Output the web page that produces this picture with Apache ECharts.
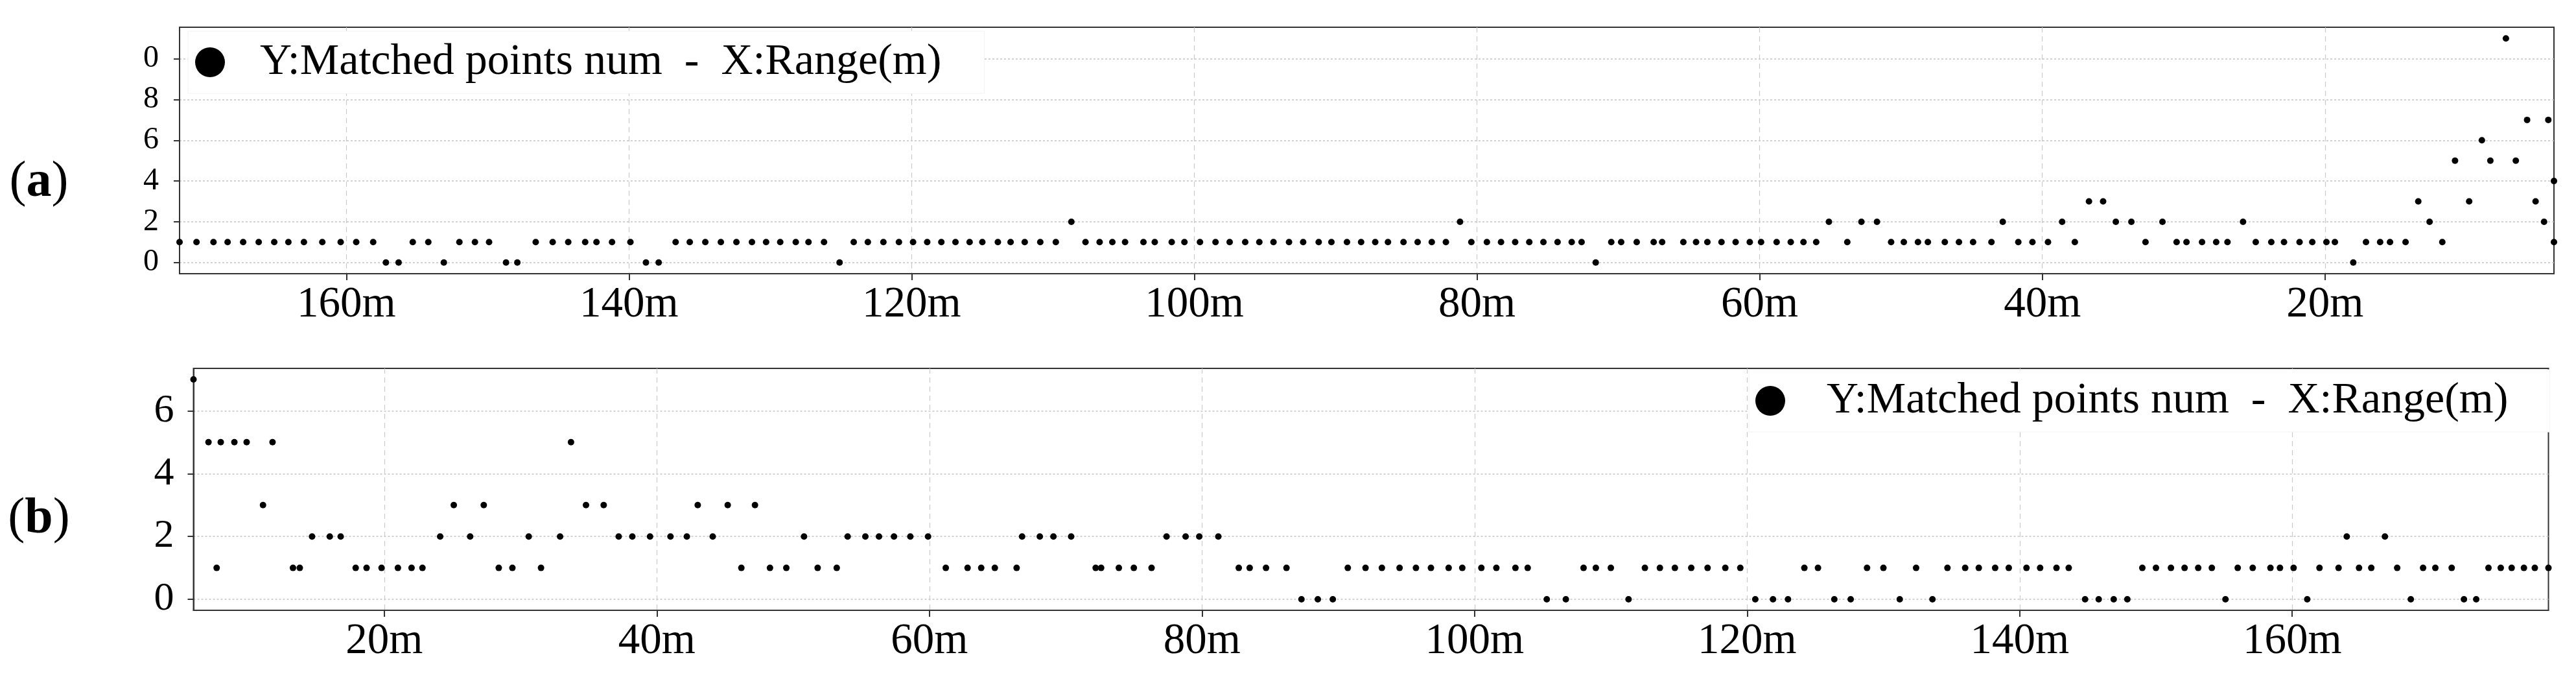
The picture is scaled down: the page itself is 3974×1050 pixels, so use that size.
<!DOCTYPE html>
<html><head><meta charset="utf-8">
<script src="https://cdn.jsdelivr.net/npm/echarts@6/dist/echarts.min.js"></script>
<style>html,body{margin:0;padding:0;background:#fff}#c{width:3974px;height:1050px}</style>
</head><body><div id="c"></div>
<script>
const seriesName = 'Y:Matched points num  -  X:Range(m)';

const rangeA = [171.8,170.6,169.4,168.4,167.3,166.2,165.1,164.1,163.0,161.7,160.4,159.3,158.1,157.2,156.3,155.3,154.2,153.1,152.0,150.9,149.9,148.7,147.9,146.6,145.4,144.3,143.1,142.3,141.2,139.9,138.8,137.9,136.7,135.7,134.6,133.5,132.4,131.3,130.3,129.3,128.2,127.3,126.2,125.1,124.1,123.1,122.0,120.9,119.9,118.9,117.9,116.9,115.9,115.0,113.9,113.0,112.0,110.9,109.8,108.7,107.7,106.7,105.8,104.9,103.6,102.8,101.6,100.7,99.6,98.5,97.5,96.4,95.4,94.4,93.3,92.3,91.2,90.3,89.2,88.2,87.2,86.3,85.2,84.2,83.2,82.2,81.2,80.4,79.3,78.3,77.3,76.3,75.3,74.3,73.3,72.6,71.6,70.5,69.8,68.7,67.5,66.9,65.4,64.5,63.7,62.7,61.7,60.7,59.9,58.8,57.8,56.9,56.0,55.1,53.8,52.8,51.7,50.7,49.8,48.8,48.1,46.9,45.9,44.9,43.6,42.8,41.7,40.7,39.6,38.6,37.7,36.7,35.7,34.8,33.7,32.7,31.5,30.5,29.8,28.7,27.7,26.9,25.8,24.9,23.8,22.9,21.8,20.9,19.9,19.3,18.0,17.1,16.1,15.4,14.3,13.4,12.6,11.7,10.8,9.8,8.9,8.3,7.2,6.5,5.7,5.1,4.5,4.2,3.8,3.8,3.8];
const matchedA = [1,1,1,1,1,1,1,1,1,1,1,1,1,0,0,1,1,0,1,1,1,0,0,1,1,1,1,1,1,1,0,0,1,1,1,1,1,1,1,1,1,1,1,0,1,1,1,1,1,1,1,1,1,1,1,1,1,1,1,2,1,1,1,1,1,1,1,1,1,1,1,1,1,1,1,1,1,1,1,1,1,1,1,1,1,1,2,1,1,1,1,1,1,1,1,1,0,1,1,1,1,1,1,1,1,1,1,1,1,1,1,1,1,2,1,2,2,1,1,1,1,1,1,1,1,2,1,1,1,2,1,3,3,2,2,1,2,1,1,1,1,1,2,1,1,1,1,1,1,1,0,1,1,1,1,3,2,1,5,3,6,5,11,5,7,3,2,7,4,1];

const rangeB = [6.0,7.1,7.7,8.0,9.0,9.9,11.1,11.8,13.3,13.8,14.7,16.0,16.8,17.9,18.7,19.8,21.0,22.0,22.8,24.1,25.1,26.3,27.3,28.4,29.4,30.6,31.5,32.9,33.7,34.8,36.1,37.2,38.2,39.5,41.0,42.2,43.0,44.1,45.2,46.2,47.2,48.3,49.5,50.8,51.8,53.2,54.0,55.3,56.3,57.4,58.6,59.9,61.2,62.8,63.8,64.8,66.4,66.8,68.1,69.1,70.4,72.2,72.6,73.9,75.0,76.3,77.4,78.8,79.8,81.2,82.7,83.5,84.7,86.2,87.3,88.5,89.6,90.7,92.0,93.2,94.5,95.7,96.8,98.1,99.1,100.5,101.6,103.0,103.9,105.3,106.7,108.0,108.9,110.0,111.3,112.5,113.6,114.7,115.9,117.1,118.4,119.5,120.6,121.9,123.0,124.2,125.2,126.4,127.6,128.8,130.0,131.2,132.4,133.6,134.7,136.0,137.0,138.2,139.2,140.5,141.5,142.7,143.6,144.8,145.8,146.9,147.9,149.0,150.0,151.1,152.1,153.1,154.1,155.1,156.0,157.1,158.4,159.1,160.1,161.1,162.0,163.4,164.0,164.9,165.8,166.8,167.7,168.7,169.6,170.5,171.7,172.6,173.5,174.4,175.3,176.1,177.0,177.8,178.8];
const matchedB = [7,5,1,5,5,5,3,5,1,1,2,2,2,1,1,1,1,1,1,2,3,2,3,1,1,2,1,2,5,3,3,2,2,2,2,2,3,2,3,1,3,1,1,2,1,1,2,2,2,2,2,2,1,1,1,1,1,2,2,2,2,1,1,1,1,1,2,2,2,2,1,1,1,1,0,0,0,1,1,1,1,1,1,1,1,1,1,1,1,0,0,1,1,1,0,1,1,1,1,1,1,1,0,0,0,1,1,0,0,1,1,0,1,0,1,1,1,1,1,1,1,1,1,0,0,0,0,1,1,1,1,1,1,0,1,1,1,1,1,0,1,1,2,1,1,2,1,0,1,1,1,0,0,1,1,1,1,1,1];

const xTicksA = [20,40,60,80,100,120,140,160];
const xTicksB = [20,40,60,80,100,120,140,160];
const yTicksA = [0,2,4,6,8,10];
const yTickLabelsA = ['0','2','4','6','8','0'];
const yTicksB = [0,2,4,6];
const yTickLabelsB = ['0','2','4','6'];
const panelLabels = ['a','b'];

const FONT = 'Liberation Serif';
const chart = echarts.init(document.getElementById('c'), null, {renderer:'canvas'});
const ellipse = 'path://M50,0 A50,50 0 1,1 50,100 A50,50 0 1,1 50,0 Z';

function xAxisCfg(grid, ticks, min, max, inverse){
  return {
    type:'value', gridIndex:grid, min:min, max:max, inverse:inverse,
    axisLine:{show:true, onZero:false, lineStyle:{color:'#333', width:2}},
    axisTick:{show:true, length:10, customValues:ticks, lineStyle:{color:'#333', width:2}},
    axisLabel:{customValues:ticks, formatter:v=>v+'m', fontFamily:FONT, fontSize:67, color:'#000', margin:15},
    splitLine:{show:true, lineStyle:{color:'#cacaca', type:[8,6], width:1.2}}
  };
}
function yAxisCfg(grid, ticks, labels, min, max, fs, margin){
  return {
    type:'value', gridIndex:grid, min:min, max:max,
    axisLine:{show:true, onZero:false, lineStyle:{color:'#333', width:2}},
    axisTick:{show:true, length:9, customValues:ticks, lineStyle:{color:'#333', width:2}},
    axisLabel:{customValues:ticks, formatter:v=>labels[ticks.indexOf(v)], fontFamily:FONT, fontSize:fs, color:'#000', margin:margin},
    splitLine:{show:true, lineStyle:{color:'#c4c4c4', type:[3,3], width:1.5}}
  };
}
function legendCfg(left, top, pad, textPad){
  return {
    data:[{name:seriesName, itemStyle:{color:'#000', opacity:1, borderWidth:0}}],
    left:left, top:top, icon:ellipse, itemWidth:46, itemHeight:53,
    selectedMode:false, padding:pad, backgroundColor:'#fff', borderColor:'#f2f2f2', borderWidth:1,
    itemStyle:{color:'#000', opacity:1, borderWidth:0},
    textStyle:{fontFamily:FONT, fontSize:68, color:'#000', lineHeight:68, padding:[0,0,0,textPad]}
  };
}
const labelY = [282, 801];
chart.setOption({
  animation:false,
  backgroundColor:'#fff',
  grid:[
    {left:277, top:42, width:3663, height:380, show:true, borderColor:'#333', borderWidth:2, backgroundColor:'transparent'},
    {left:298.5, top:568, width:3633, height:373, show:true, borderColor:'#333', borderWidth:2, backgroundColor:'transparent'}
  ],
  xAxis:[ xAxisCfg(0, xTicksA, 3.8, 171.8, true), xAxisCfg(1, xTicksB, 6.0, 178.8, false) ],
  yAxis:[ yAxisCfg(0, yTicksA, yTickLabelsA, -0.55, 11.55, 48, 32), yAxisCfg(1, yTicksB, yTickLabelsB, -0.35, 7.35, 62, 30) ],
  legend:[ legendCfg(290, 48, [14,66,14,11], 49), legendCfg(2698, 570, [14,64,14,10], 59) ],
  series:[
    {name:seriesName, type:'scatter', xAxisIndex:0, yAxisIndex:0, symbol:'circle', symbolSize:10,
     itemStyle:{color:'#000', opacity:1}, data:rangeA.map((x,i)=>[x, matchedA[i]])},
    {name:seriesName, type:'scatter', xAxisIndex:1, yAxisIndex:1, symbol:'circle', symbolSize:10,
     itemStyle:{color:'#000', opacity:1}, data:rangeB.map((x,i)=>[x, matchedB[i]])}
  ],
  graphic: panelLabels.map((p,i)=>({
    type:'text', x:60, y:labelY[i],
    style:{text:'{n|(}{b|'+p+'}{n|)}', align:'center', verticalAlign:'middle',
      rich:{n:{fontFamily:FONT, fontSize:78, color:'#000'}, b:{fontFamily:FONT, fontSize:78, fontWeight:'bold', color:'#000'}}}
  }))
});
</script></body></html>
